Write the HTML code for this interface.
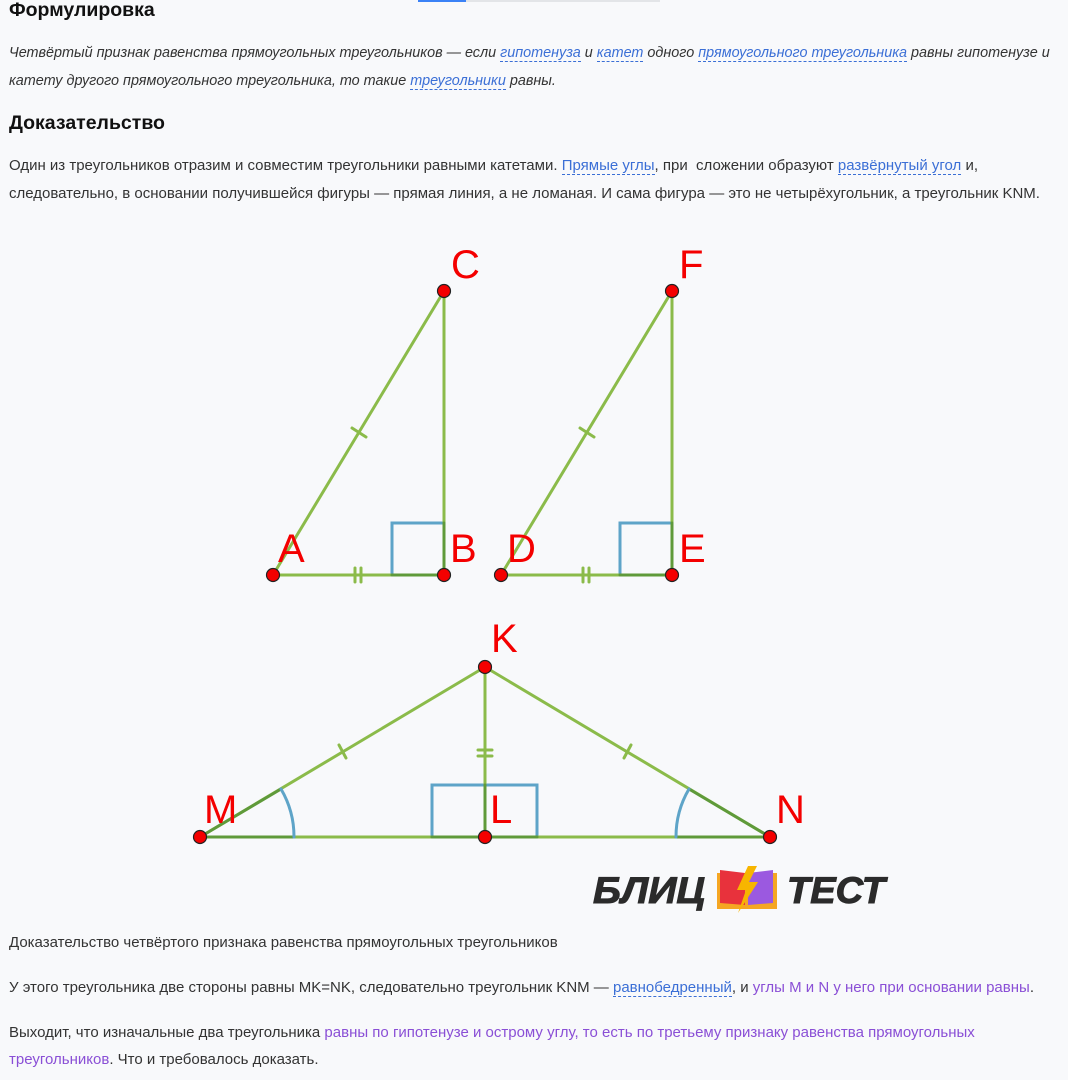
<!DOCTYPE html>
<html><head><meta charset="utf-8"><style>
html,body{margin:0;padding:0;background:#f8f9fb;}
body{width:1068px;height:1080px;position:relative;overflow:hidden;font-family:"Liberation Sans","DejaVu Sans",sans-serif;color:#333;font-size:15px;}
.t{position:absolute;left:9px;white-space:nowrap;}
h3{position:absolute;left:9px;margin:0;font-size:19.5px;font-weight:bold;color:#111;}
a{color:#3b6fd6;text-decoration:none;border-bottom:1px dashed #3b6fd6;}
.p{color:#8a4fd6;}
i{font-style:italic;}
</style></head><body>
<div style="position:absolute;left:418px;top:0;width:48px;height:2px;background:#3b82f6"></div>
<div style="position:absolute;left:466px;top:0;width:194px;height:2px;background:#e3e5e8"></div>
<h3 style="top:-1px">Формулировка</h3>
<div class="t" style="top:45px;font-size:14.4px"><i>Четвёртый признак равенства прямоугольных треугольников — если <a>гипотенуза</a> и <a>катет</a> одного <a>прямоугольного треугольника</a> равны гипотенузе и</i></div>
<div class="t" style="top:73px;font-size:14.4px"><i>катету другого прямоугольного треугольника, то такие <a>треугольники</a> равны.</i></div>
<h3 style="top:112px">Доказательство</h3>
<div class="t" style="top:157px">Один из треугольников отразим и совместим треугольники равными катетами. <a>Прямые углы</a>, при&nbsp; сложении образуют <a>развёрнутый угол</a> и,</div>
<div class="t" style="top:185px">следовательно, в основании получившейся фигуры — прямая линия, а не ломаная. И сама фигура — это не четырёхугольник, а треугольник KNM.</div>

<svg style="position:absolute;left:0;top:0" width="1068" height="1080">
<g fill="none" stroke-linecap="round">
<rect x="392" y="523" width="52" height="52" stroke="#5ea4c8" stroke-width="3"/>
<line x1="273" y1="575" x2="444" y2="291" stroke="#8bbb4a" stroke-width="3"/>
<line x1="444" y1="291" x2="444" y2="575" stroke="#8bbb4a" stroke-width="3"/>
<line x1="273" y1="575" x2="444" y2="575" stroke="#8bbb4a" stroke-width="3"/>
<path d="M392 575H444V523" stroke="#5f9a3a" stroke-width="3"/>
<line x1="352" y1="428" x2="366" y2="437" stroke="#8bbb4a" stroke-width="3"/>
<line x1="355" y1="568" x2="355" y2="582" stroke="#8bbb4a" stroke-width="3"/>
<line x1="361" y1="568" x2="361" y2="582" stroke="#8bbb4a" stroke-width="3"/>
<rect x="620" y="523" width="52" height="52" stroke="#5ea4c8" stroke-width="3"/>
<line x1="501" y1="575" x2="672" y2="291" stroke="#8bbb4a" stroke-width="3"/>
<line x1="672" y1="291" x2="672" y2="575" stroke="#8bbb4a" stroke-width="3"/>
<line x1="501" y1="575" x2="672" y2="575" stroke="#8bbb4a" stroke-width="3"/>
<path d="M620 575H672V523" stroke="#5f9a3a" stroke-width="3"/>
<line x1="580" y1="428" x2="594" y2="437" stroke="#8bbb4a" stroke-width="3"/>
<line x1="583" y1="568" x2="583" y2="582" stroke="#8bbb4a" stroke-width="3"/>
<line x1="589" y1="568" x2="589" y2="582" stroke="#8bbb4a" stroke-width="3"/>
<rect x="432" y="785" width="105" height="52" stroke="#5ea4c8" stroke-width="3"/>
<line x1="200" y1="837" x2="770" y2="837" stroke="#8bbb4a" stroke-width="3"/>
<line x1="200" y1="837" x2="485" y2="667" stroke="#8bbb4a" stroke-width="3"/>
<line x1="770" y1="837" x2="485" y2="667" stroke="#8bbb4a" stroke-width="3"/>
<line x1="485" y1="667" x2="485" y2="837" stroke="#8bbb4a" stroke-width="3"/>
<path d="M432 837H537M485 837V785" stroke="#5f9a3a" stroke-width="3"/>
<path d="M200 837H294M200 837L281 789M770 837H676M770 837L689 789" stroke="#5f9a3a" stroke-width="3"/>
<path d="M281 789A94 94 0 0 1 294 837" stroke="#5ea4c8" stroke-width="3"/>
<path d="M689 789A94 94 0 0 0 676 837" stroke="#5ea4c8" stroke-width="3"/>
<line x1="339" y1="745" x2="346" y2="758" stroke="#8bbb4a" stroke-width="3"/>
<line x1="631" y1="745" x2="624" y2="758" stroke="#8bbb4a" stroke-width="3"/>
<line x1="478" y1="750" x2="492" y2="750" stroke="#8bbb4a" stroke-width="3"/>
<line x1="478" y1="756" x2="492" y2="756" stroke="#8bbb4a" stroke-width="3"/>
</g>
<g fill="#f40000" stroke="#222" stroke-width="1.2">
<circle cx="273" cy="575" r="6.5"/><circle cx="444" cy="575" r="6.5"/><circle cx="444" cy="291" r="6.5"/>
<circle cx="501" cy="575" r="6.5"/><circle cx="672" cy="575" r="6.5"/><circle cx="672" cy="291" r="6.5"/>
<circle cx="485" cy="667" r="6.5"/><circle cx="200" cy="837" r="6.5"/><circle cx="485" cy="837" r="6.5"/><circle cx="770" cy="837" r="6.5"/>
</g>
<g fill="#f40000" font-family="Liberation Sans, sans-serif" font-size="40">
<text x="451" y="278">C</text><text x="679" y="278">F</text>
<text x="278" y="562">A</text><text x="450" y="562">B</text>
<text x="507" y="562">D</text><text x="679" y="562">E</text>
<text x="491" y="652">K</text><text x="204" y="823">M</text>
<text x="490" y="823">L</text><text x="776" y="823">N</text>
</g>
<g font-family="Liberation Sans, sans-serif" font-weight="bold" font-style="italic" font-size="37" fill="#2b2b2b" stroke="#2b2b2b" stroke-width="1">
<text x="593" y="903" textLength="112" lengthAdjust="spacingAndGlyphs">БЛИЦ</text><text x="787" y="903" textLength="98" lengthAdjust="spacingAndGlyphs">ТЕСТ</text>
</g>
<rect x="717" y="873" width="60" height="36" fill="#f5a623"/>
<polygon points="720,870 745,873 745,905 720,903" fill="#e8323c"/>
<polygon points="748,873 773,870 773,903 748,905" fill="#9b59e0"/>
<polygon points="748,866 737,890 746,890 738,913 758,882 749,882 757,866" fill="#f7b500"/>
</svg>

<div class="t" style="top:934px">Доказательство четвёртого признака равенства прямоугольных треугольников</div>
<div class="t" style="top:979px">У этого треугольника две стороны равны MK=NK, следовательно треугольник KNM — <a>равнобедренный</a>, и <span class="p">углы M и N у него при основании равны</span>.</div>
<div class="t" style="top:1024px">Выходит, что изначальные два треугольника <span class="p">равны по гипотенузе и острому углу, то есть по третьему признаку равенства прямоугольных</span></div>
<div class="t" style="top:1051px"><span class="p">треугольников</span>. Что и требовалось доказать.</div>
</body></html>
